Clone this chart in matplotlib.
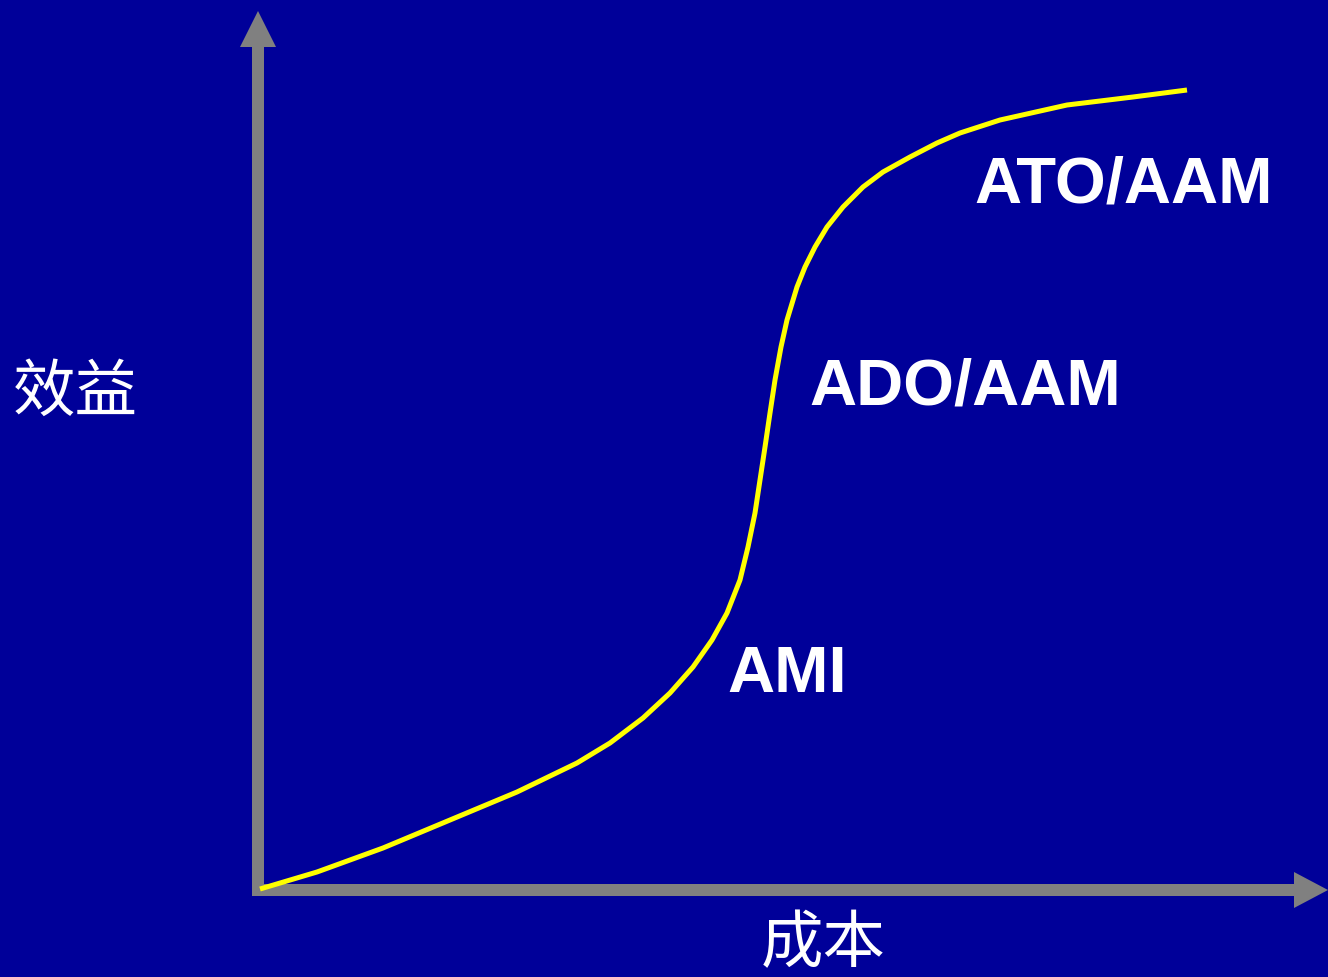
import numpy as np
import matplotlib.pyplot as plt
from matplotlib.patches import FancyArrow

# curve: cost (x) vs benefit (y), origin at the axes corner
cost = [2, 59, 125, 192, 259, 319, 352, 385, 412, 435, 454, 469, 482, 490,
        497, 502, 507, 512, 517, 523, 529, 539, 547, 557, 569, 585, 605,
        625, 652, 679, 702, 742, 809, 875, 929]
benefit = [1, 18, 42, 70, 98, 127, 147, 172, 197, 223, 250, 277, 310, 343,
           377, 410, 443, 477, 510, 543, 570, 603, 623, 643, 663, 683, 703,
           718, 733, 747, 757, 770, 785, 793, 800]

stage_labels = ['AMI', 'ADO/AAM', 'ATO/AAM']
x_label = '成本'
y_label = '效益'

bg = '#000099'
axis_col = '#808080'

fig = plt.figure(figsize=(13.28, 9.77), dpi=100, facecolor=bg)
ax = fig.add_axes([0, 0, 1, 1])
ax.set_facecolor(bg)
ax.set_xlim(-258, 1070)
ax.set_ylim(-87, 890)
ax.axis('off')

# axes drawn as thick grey arrows
ax.add_patch(FancyArrow(0, -6, 0, 885, width=12, head_width=36, head_length=36,
                        length_includes_head=True, color=axis_col, lw=0))
ax.add_patch(FancyArrow(-6, 0, 1076, 0, width=12, head_width=36, head_length=34,
                        length_includes_head=True, color=axis_col, lw=0))

ax.plot(cost, benefit, color='#ffff00', lw=3.6, solid_capstyle='butt',
        solid_joinstyle='round')

lab_kw = dict(color='white', fontsize=47, fontweight='bold',
              family=['Liberation Sans', 'DejaVu Sans'], ha='left', va='baseline')
ax.text(469, 198, stage_labels[0], **lab_kw)
ax.text(551, 485, stage_labels[1], **lab_kw)
ax.text(716, 688, stage_labels[2], **lab_kw)

cjk_kw = dict(color='white', fontsize=45,
              family=['Noto Sans CJK SC', 'DejaVu Sans'], ha='left', va='center')
ax.text(-245, 497, y_label, **cjk_kw)
ax.text(503, -54, x_label, **cjk_kw)

fig.savefig('out.png', dpi=100, facecolor=bg)
